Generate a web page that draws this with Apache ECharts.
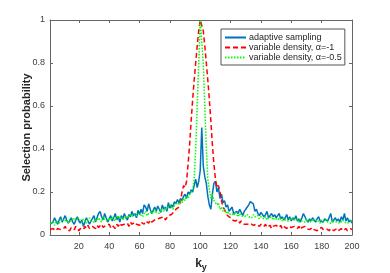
<!DOCTYPE html>
<html>
<head>
<meta charset="utf-8">
<script src="https://cdn.jsdelivr.net/npm/echarts@6/dist/echarts.min.js"></script>
<style>html,body{margin:0;padding:0;background:#fff}#c{width:390px;height:273px}</style>
</head>
<body>
<div id="c"></div>
<script>
// k_y indices 1..200
const kCount = 200;
const xTicks = [20, 40, 60, 80, 100, 120, 140, 160, 180, 200];
const yTicks = [0, 0.2, 0.4, 0.6, 0.8, 1];
const seriesNames = ['adaptive sampling', 'variable density, α=-1', 'variable density, α=-0.5'];

const adaptive = [
  0.05, 0.045, 0.06, 0.08, 0.065, 0.05, 0.07, 0.085, 0.06, 0.075,
  0.09, 0.07, 0.055, 0.065, 0.08, 0.06, 0.05, 0.07, 0.085, 0.065,
  0.055, 0.07, 0.04, 0.06, 0.08, 0.075, 0.05, 0.065, 0.07, 0.09,
  0.06, 0.08, 0.1, 0.11, 0.085, 0.07, 0.1, 0.08, 0.06, 0.075,
  0.09, 0.065, 0.08, 0.1, 0.07, 0.085, 0.06, 0.09, 0.075, 0.1,
  0.08, 0.07, 0.095, 0.085, 0.11, 0.09, 0.1, 0.08, 0.115, 0.095,
  0.12, 0.1, 0.14, 0.13, 0.11, 0.145, 0.12, 0.1, 0.115, 0.13,
  0.11, 0.135, 0.12, 0.105, 0.14, 0.12, 0.13, 0.11, 0.15, 0.125,
  0.14, 0.13, 0.155, 0.145, 0.165, 0.15, 0.17, 0.16, 0.18, 0.19,
  0.17, 0.2, 0.19, 0.21, 0.2, 0.23, 0.26, 0.22, 0.25, 0.3,
  0.5, 0.32, 0.27, 0.24, 0.18, 0.14, 0.12, 0.19, 0.24, 0.25,
  0.2, 0.22, 0.17, 0.19, 0.15, 0.16, 0.13, 0.14, 0.11, 0.12,
  0.13, 0.1, 0.095, 0.11, 0.1, 0.12, 0.105, 0.09, 0.11, 0.12,
  0.13, 0.14, 0.155, 0.15, 0.145, 0.11, 0.12, 0.1, 0.09, 0.105,
  0.1, 0.085, 0.095, 0.11, 0.08, 0.09, 0.1, 0.085, 0.095, 0.08,
  0.09, 0.1, 0.075, 0.085, 0.07, 0.08, 0.095, 0.07, 0.085, 0.065,
  0.08, 0.07, 0.09, 0.065, 0.075, 0.06, 0.08, 0.1, 0.085, 0.07,
  0.06, 0.075, 0.065, 0.08, 0.07, 0.06, 0.075, 0.085, 0.065, 0.07,
  0.06, 0.075, 0.08, 0.065, 0.07, 0.1, 0.06, 0.07, 0.08, 0.065,
  0.075, 0.06, 0.085, 0.07, 0.1, 0.065, 0.08, 0.06, 0.07, 0.055
];

const varDensity1 = [
  0.025, 0.02, 0.03, 0.025, 0.02, 0.03, 0.035, 0.025, 0.02, 0.03,
  0.04, 0.025, 0.03, 0.02, 0.035, 0.03, 0.025, 0.04, 0.03, 0.02,
  0.03, 0.035, 0.025, 0.04, 0.03, 0.045, 0.03, 0.025, 0.04, 0.035,
  0.03, 0.045, 0.035, 0.04, 0.05, 0.035, 0.03, 0.045, 0.04, 0.05,
  0.035, 0.045, 0.04, 0.03, 0.05, 0.04, 0.055, 0.045, 0.04, 0.05,
  0.045, 0.055, 0.04, 0.06, 0.05, 0.045, 0.06, 0.05, 0.055, 0.045,
  0.06, 0.055, 0.05, 0.065, 0.06, 0.055, 0.07, 0.06, 0.065, 0.07,
  0.065, 0.075, 0.07, 0.08, 0.075, 0.085, 0.07, 0.08, 0.09, 0.085,
  0.095, 0.1, 0.11, 0.12, 0.125, 0.13, 0.16, 0.2, 0.23, 0.22,
  0.25, 0.33, 0.42, 0.53, 0.63, 0.72, 0.8, 0.88, 0.95, 1.0,
  1.0, 0.95, 0.88, 0.8, 0.72, 0.63, 0.53, 0.42, 0.33, 0.26,
  0.22, 0.23, 0.2, 0.16, 0.13, 0.12, 0.1, 0.09, 0.085, 0.08,
  0.07, 0.075, 0.065, 0.06, 0.07, 0.055, 0.065, 0.06, 0.05, 0.055,
  0.05, 0.045, 0.055, 0.05, 0.045, 0.04, 0.05, 0.045, 0.04, 0.05,
  0.045, 0.04, 0.05, 0.035, 0.04, 0.045, 0.03, 0.04, 0.035, 0.045,
  0.04, 0.035, 0.045, 0.03, 0.04, 0.035, 0.03, 0.04, 0.045, 0.035,
  0.03, 0.04, 0.035, 0.03, 0.04, 0.025, 0.035, 0.03, 0.04, 0.03,
  0.035, 0.025, 0.03, 0.035, 0.025, 0.03, 0.02, 0.03, 0.025, 0.035,
  0.025, 0.02, 0.03, 0.025, 0.02, 0.03, 0.025, 0.02, 0.025, 0.03,
  0.02, 0.025, 0.03, 0.02, 0.025, 0.03, 0.02, 0.025, 0.03, 0.025
];

const varDensity05 = [
  0.055, 0.05, 0.06, 0.045, 0.065, 0.07, 0.055, 0.06, 0.075, 0.065,
  0.06, 0.07, 0.055, 0.075, 0.065, 0.06, 0.08, 0.07, 0.065, 0.075,
  0.07, 0.06, 0.075, 0.065, 0.055, 0.07, 0.08, 0.065, 0.07, 0.06,
  0.075, 0.065, 0.08, 0.07, 0.06, 0.085, 0.07, 0.075, 0.065, 0.08,
  0.07, 0.085, 0.075, 0.065, 0.08, 0.09, 0.075, 0.085, 0.07, 0.08,
  0.09, 0.08, 0.075, 0.095, 0.085, 0.08, 0.1, 0.09, 0.085, 0.1,
  0.095, 0.085, 0.1, 0.11, 0.09, 0.1, 0.095, 0.11, 0.1, 0.12,
  0.105, 0.11, 0.1, 0.12, 0.115, 0.11, 0.13, 0.12, 0.125, 0.14,
  0.13, 0.12, 0.14, 0.135, 0.15, 0.14, 0.16, 0.15, 0.17, 0.16,
  0.18, 0.17, 0.19, 0.2, 0.21, 0.26, 0.4, 0.6, 0.8, 1.0,
  1.0, 0.8, 0.6, 0.4, 0.26, 0.21, 0.17, 0.19, 0.16, 0.15,
  0.14, 0.15, 0.12, 0.13, 0.11, 0.12, 0.1, 0.11, 0.095, 0.1,
  0.1, 0.09, 0.105, 0.095, 0.085, 0.1, 0.09, 0.095, 0.085, 0.09,
  0.095, 0.085, 0.09, 0.08, 0.095, 0.085, 0.08, 0.09, 0.075, 0.085,
  0.08, 0.075, 0.085, 0.07, 0.08, 0.075, 0.085, 0.07, 0.08, 0.075,
  0.07, 0.08, 0.075, 0.065, 0.08, 0.07, 0.075, 0.065, 0.07, 0.08,
  0.07, 0.065, 0.075, 0.07, 0.06, 0.075, 0.065, 0.07, 0.06, 0.075,
  0.065, 0.07, 0.06, 0.075, 0.065, 0.06, 0.07, 0.065, 0.055, 0.07,
  0.06, 0.065, 0.07, 0.06, 0.065, 0.055, 0.07, 0.06, 0.065, 0.06,
  0.065, 0.055, 0.06, 0.07, 0.06, 0.065, 0.055, 0.06, 0.065, 0.06
];

function pairs(arr) { return arr.map((v, i) => [i + 1, v]); }

const axisColor = '#666666';
const labelColor = '#404040';
const fontFam = '"Liberation Sans", Arial, Helvetica, sans-serif';

const chart = echarts.init(document.getElementById('c'), null, { renderer: 'canvas' });
chart.setOption({
  animation: false,
  backgroundColor: '#ffffff',
  textStyle: { fontFamily: fontFam },
  grid: { left: 50, right: 38, top: 20, bottom: 38, containLabel: false, outerBoundsMode: 'none' },
  legend: {
    orient: 'vertical',
    left: 221, top: 29,
    padding: [4, 3, 3, 3],
    itemGap: 1,
    itemWidth: 21,
    itemHeight: 11,
    itemStyle: { opacity: 0 },
    backgroundColor: '#ffffff',
    borderColor: '#555555',
    borderWidth: 1,
    borderRadius: 0,
    textStyle: { fontSize: 9, color: '#262626', fontFamily: fontFam, padding: [0, 0, 0, -2] },
    data: seriesNames
  },
  xAxis: [{
    type: 'value', min: 1, max: kCount, position: 'bottom',
    name: '{k|k}{s|y}', nameLocation: 'middle', nameGap: 20, nameMoveOverlap: false,
    nameTextStyle: { rich: {
      k: { fontSize: 12, fontWeight: 'bold', color: '#262626', fontFamily: fontFam },
      s: { fontSize: 9, fontWeight: 'bold', color: '#262626', fontFamily: fontFam, padding: [8, 0, 0, 0] }
    } },
    axisLine: { show: true, lineStyle: { color: axisColor, width: 1 } },
    axisTick: { show: true, inside: true, length: 3, customValues: xTicks, lineStyle: { color: axisColor } },
    axisLabel: { show: true, customValues: xTicks, color: labelColor, fontSize: 9, margin: 7, fontFamily: fontFam },
    splitLine: { show: false }
  }, {
    type: 'value', min: 1, max: kCount, position: 'top',
    axisLine: { show: true, onZero: false, lineStyle: { color: axisColor, width: 1 } },
    axisTick: { show: true, inside: true, length: 3, customValues: xTicks, lineStyle: { color: axisColor } },
    axisLabel: { show: false },
    splitLine: { show: false }
  }],
  yAxis: [{
    type: 'value', min: 0, max: 1, interval: 0.2, position: 'left',
    name: 'Selection probability', nameLocation: 'middle', nameGap: 18, nameMoveOverlap: false,
    nameTextStyle: { fontSize: 11, fontWeight: 'bold', color: '#262626', fontFamily: fontFam },
    axisLine: { show: true, lineStyle: { color: axisColor, width: 1 } },
    axisTick: { show: true, inside: true, length: 3, lineStyle: { color: axisColor } },
    axisLabel: { color: labelColor, fontSize: 9, margin: 5, fontFamily: fontFam },
    splitLine: { show: false }
  }, {
    type: 'value', min: 0, max: 1, interval: 0.2, position: 'right',
    axisLine: { show: true, onZero: false, lineStyle: { color: axisColor, width: 1 } },
    axisTick: { show: true, inside: true, length: 3, lineStyle: { color: axisColor } },
    axisLabel: { show: false },
    splitLine: { show: false }
  }],
  series: [{
    name: seriesNames[0], type: 'line', data: pairs(adaptive),
    showSymbol: false, symbol: 'none', color: '#0072BD',
    lineStyle: { color: '#0072BD', width: 1.5, type: 'solid' }
  }, {
    name: seriesNames[1], type: 'line', data: pairs(varDensity1),
    showSymbol: false, symbol: 'none', color: '#FF0000',
    lineStyle: { color: '#FF0000', width: 1.5, type: [5, 3] }
  }, {
    name: seriesNames[2], type: 'line', data: pairs(varDensity05),
    showSymbol: false, symbol: 'none', color: '#00FF00',
    lineStyle: { color: '#00FF00', width: 1.5, type: [1.5, 1.5] }
  }]
});
</script>
</body>
</html>
